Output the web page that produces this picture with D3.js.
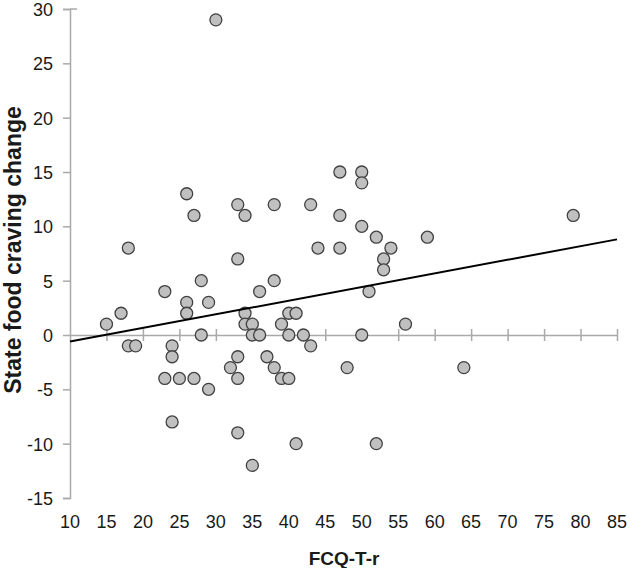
<!DOCTYPE html>
<html>
<head>
<meta charset="utf-8">
<script src="https://cdn.jsdelivr.net/npm/d3@7"></script>
<style>
body { margin: 0; background: #fff; }
svg text { font-family: Arial, "Liberation Sans", sans-serif; }
</style>
</head>
<body>
<div id="chart"></div>
<script>
// FCQ-T-r score vs state food craving change
var fcq = [15, 17, 18, 18, 19, 23, 23, 24, 24, 24, 25, 26, 26, 26, 27, 27, 28, 28, 29, 29,
	30, 32, 33, 33, 33, 33, 33, 34, 34, 34, 35, 35, 35, 36, 36, 37, 38, 38, 38, 39,
	39, 40, 40, 40, 41, 41, 42, 43, 43, 44, 47, 47, 47, 48, 50, 50, 50, 50, 51, 52,
	52, 53, 53, 54, 56, 59, 64, 79];
var craving = [1, 2, 8, -1, -1, 4, -4, -1, -2, -8, -4, 13, 3, 2, 11, -4, 5, 0, 3, -5,
	29, -3, 12, 7, -2, -4, -9, 11, 2, 1, 1, 0, -12, 4, 0, -2, 12, 5, -3, 1,
	-4, 2, 0, -4, 2, -10, 0, 12, -1, 8, 15, 11, 8, -3, 15, 14, 10, 0, 4, 9,
	-10, 7, 6, 8, 1, 9, -3, 11];
var xTicks = [10, 15, 20, 25, 30, 35, 40, 45, 50, 55, 60, 65, 70, 75, 80, 85];
var yTicks = [-15, -10, -5, 0, 5, 10, 15, 20, 25, 30];
// trend line ends
var fitX = [10, 85];
var fitY = [-0.6, 8.8];

var w = 630, h = 568;
var svg = d3.select("#chart").append("svg")
	.attr("width", w)
	.attr("height", h);

var x = d3.scaleLinear().domain([10, 85]).range([70, 617]);
var y = d3.scaleLinear().domain([-15, 30]).range([498, 9]);
var axisColor = "#a9a9a9";

// y axis on the left
var yAxis = svg.append("g")
	.attr("transform", "translate(" + x(10) + ",0)")
	.call(d3.axisLeft(y).tickValues(yTicks).tickSize(7).tickPadding(10).tickFormat(function (d) { return String(d); }));
yAxis.select(".domain").attr("stroke", axisColor).attr("stroke-width", 1.5);
yAxis.selectAll(".tick line").attr("stroke", axisColor).attr("stroke-width", 1.5);
yAxis.selectAll(".tick text")
	.attr("fill", "#1a1a1a")
	.style("font-size", "18px")
	.attr("dy", "0.36em");
// small cap at the top of the y axis
svg.append("line")
	.attr("x1", x(10)).attr("x2", x(10) + 7)
	.attr("y1", y(30)).attr("y2", y(30))
	.attr("stroke", axisColor).attr("stroke-width", 1.5);

// x axis line sits at zero, ticks cross it
var xAxis = svg.append("g")
	.attr("transform", "translate(0," + y(0) + ")")
	.call(d3.axisBottom(x).tickValues(xTicks).tickSize(0).tickFormat(""));
xAxis.select(".domain").attr("stroke", axisColor).attr("stroke-width", 1.5);
xAxis.selectAll(".tick line")
	.attr("stroke", axisColor).attr("stroke-width", 1.5)
	.attr("y1", -6).attr("y2", 6);
xAxis.selectAll(".tick").filter(function (d) { return d == 10; }).select("line").remove();

// x tick labels below the plot
svg.append("g").selectAll("text")
	.data(xTicks)
	.enter().append("text")
	.attr("x", function (d) { return x(d); })
	.attr("y", 528)
	.attr("text-anchor", "middle")
	.attr("fill", "#1a1a1a")
	.style("font-size", "18px")
	.text(String);

// points
svg.append("g").selectAll("circle")
	.data(fcq)
	.enter().append("circle")
	.attr("cx", function (d) { return x(d); })
	.attr("cy", function (d, i) { return y(craving[i]); })
	.attr("r", 6)
	.attr("fill", "#c0c0c0")
	.attr("stroke", "#404040")
	.attr("stroke-width", 1.3);

// trend line
svg.append("line")
	.attr("x1", x(fitX[0])).attr("y1", y(fitY[0]))
	.attr("x2", x(fitX[1])).attr("y2", y(fitY[1]))
	.attr("stroke", "#000")
	.attr("stroke-width", 2);

// axis titles
svg.append("text")
	.attr("x", 344)
	.attr("y", 565)
	.attr("text-anchor", "middle")
	.style("font-size", "19px")
	.style("font-weight", "bold")
	.attr("fill", "#1a1a1a")
	.text("FCQ-T-r");

svg.append("text")
	.attr("transform", "translate(21,250) rotate(-90)")
	.attr("text-anchor", "middle")
	.style("font-size", "23px")
	.style("font-weight", "bold")
	.attr("fill", "#1a1a1a")
	.text("State food craving change");
</script>
</body>
</html>
